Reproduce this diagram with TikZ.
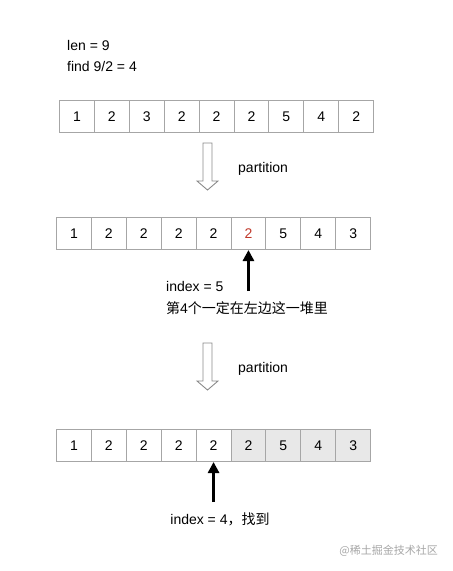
\documentclass[tikz,border=0pt]{standalone}
\usepackage{fontspec}
\setmainfont{Liberation Sans}
\newfontfamily\cjk{Noto Sans CJK SC}
\usetikzlibrary{arrows.meta}
\definecolor{cellline}{HTML}{A6A6A6}
\definecolor{cellgray}{HTML}{E8E8E8}
\definecolor{redtxt}{HTML}{C0392B}
\definecolor{arrgray}{HTML}{8A8A8A}
\tikzset{
  cell/.style={draw=cellline, line width=1pt, minimum width=34.9pt, minimum height=32pt, inner sep=0pt, anchor=north west, font=\fontsize{14}{16}\selectfont},
  shade/.style={fill=cellgray},
  lbl/.style={font=\fontsize{14}{16}\selectfont, inner sep=0pt},
  ptr/.style={line width=3pt, -{Triangle[width=11pt,length=11pt]}},
  hollow/.style={draw=arrgray, line width=0.9pt, fill=white, line join=miter}
}
\begin{document}
\begin{tikzpicture}[x=1pt,y=-1pt]
\useasboundingbox (0,0) rectangle (453,571);
% header text
\node[lbl, anchor=west] (len) at (67,45) {len = 9};
\node[lbl, anchor=west] (find) at (67,66) {find 9/2 = 4};
% row 1
\foreach \v [count=\i] in {1,2,3,2,2,2,5,4,2} {
  \node[cell] (a\i) at ({59+(\i-1)*34.9},100) {\v};
}
% hollow arrow 1
\draw[hollow] (203,143) -- (212,143) -- (212,181) -- (218,181) -- (207.5,190) -- (197,181) -- (203,181) -- cycle;
\node[lbl, anchor=west] (p1) at (238,169) {partition};
% row 2
\foreach \v [count=\i] in {1,2,2,2,2,2,5,4,3} {
  \ifnum\i=6
    \node[cell, text=redtxt] (b\i) at ({56+(\i-1)*34.9},217) {\v};
  \else
    \node[cell] (b\i) at ({56+(\i-1)*34.9},217) {\v};
  \fi
}
\coordinate (s1) at (b6.south |- 0,291);
\draw[ptr] (s1) -- (b6.south);
\node[lbl, anchor=west] (idx5) at (166,286) {index = 5};
\node[lbl, anchor=west] (note) at (166,308) {{\cjk 第}4{\cjk 个一定在左边这一堆里}};
% hollow arrow 2
\draw[hollow] (203,343) -- (212,343) -- (212,381) -- (218,381) -- (207.5,390) -- (197,381) -- (203,381) -- cycle;
\node[lbl, anchor=west] (p2) at (238,369) {partition};
% row 3
\foreach \v [count=\i] in {1,2,2,2,2,2,5,4,3} {
  \ifnum\i>5
    \node[cell, shade] (c\i) at ({56+(\i-1)*34.9},429) {\v};
  \else
    \node[cell] (c\i) at ({56+(\i-1)*34.9},429) {\v};
  \fi
}
\coordinate (s2) at (c5.south |- 0,502);
\draw[ptr] (s2) -- (c5.south);
\node[lbl] (idx4) at (220,519) {index = 4{\cjk ，找到}};
% watermark
\node[inner sep=0pt, anchor=east, text=black!35, font=\cjk\fontsize{11}{13}\selectfont] (wm) at (438,551) {@稀土掘金技术社区};
\end{tikzpicture}
\end{document}
